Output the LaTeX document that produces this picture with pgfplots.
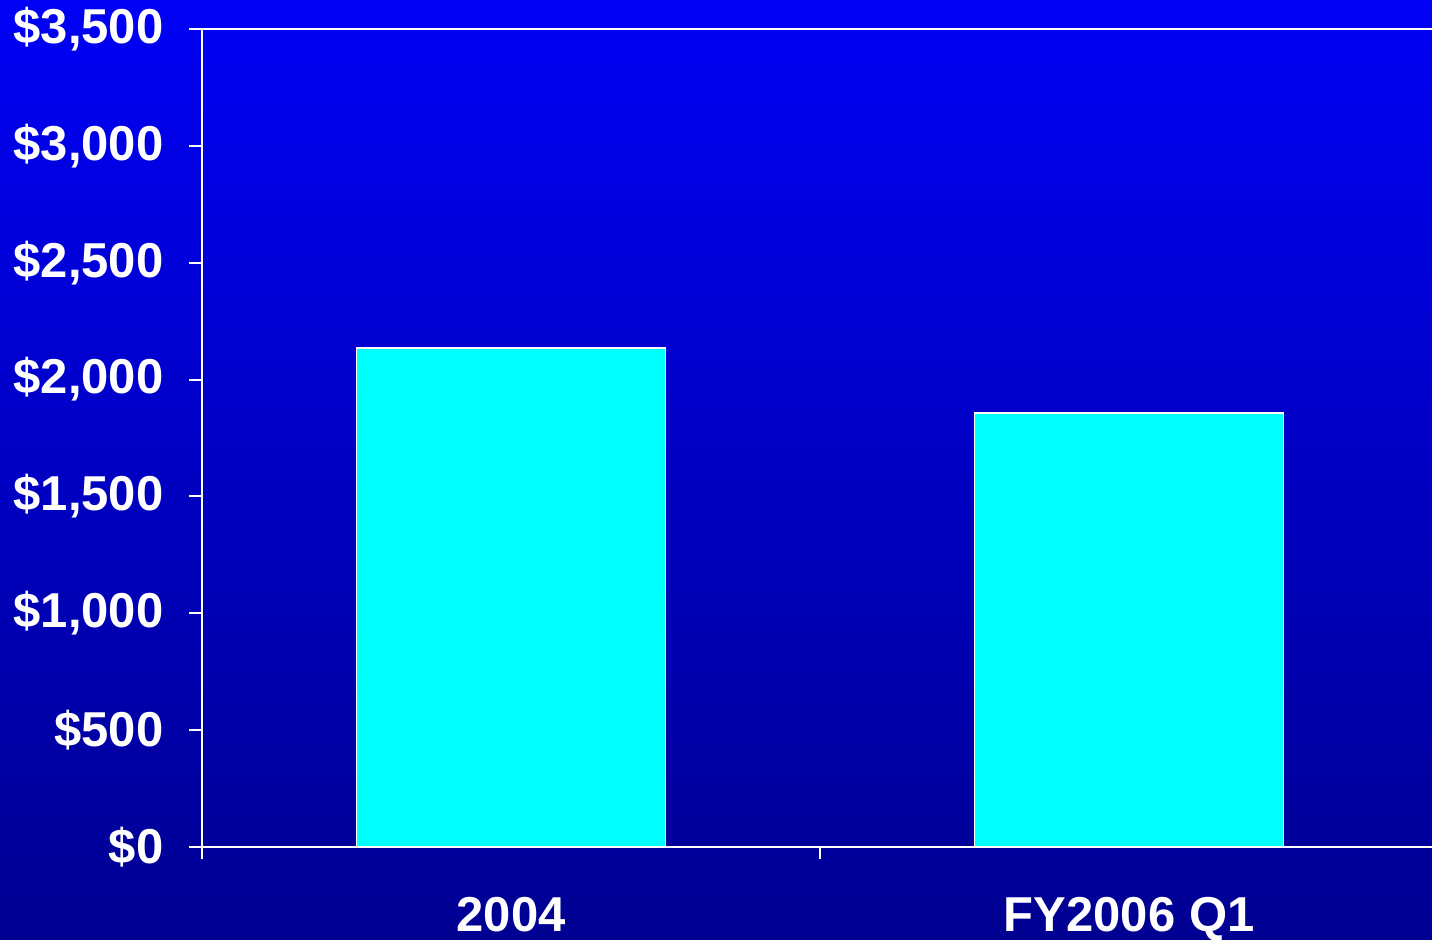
\documentclass[border=0pt]{standalone}
\usepackage{pgfplots}
\pgfplotsset{compat=1.18}
\usepackage{fontspec}
\setmainfont{Liberation Sans}
\definecolor{bgtop}{RGB}{0,0,245}
\definecolor{bgbot}{RGB}{0,0,145}
\definecolor{barc}{RGB}{0,255,255}
\begin{document}
\begin{tikzpicture}
\useasboundingbox (0,0) rectangle (716pt,470pt);
\shade[top color=bgtop, bottom color=bgbot] (0,0) rectangle (716pt,470pt);
\begin{axis}[
  at={(101pt,46.5pt)}, anchor=south west,
  width=615pt, height=409pt, scale only axis,
  xmin=-0.5, xmax=1.49, ymin=0, ymax=3500,
  axis x line*=bottom, axis y line*=left,
  axis line style={white, line width=1pt, -},
  every tick/.style={white, line width=1pt},
  major tick length=6.25pt,
  ytick={0,500,...,3500},
  yticklabels={\$0,\$500,{\$1,000},{\$1,500},{\$2,000},{\$2,500},{\$3,000},{\$3,500}},
  yticklabel style={font=\bfseries\fontsize{24.5}{28}\selectfont, text=white, anchor=east, xshift=-9.5pt},
  tick align=outside,
  xtick={-0.5,0.5}, xticklabels={},
  extra x ticks={0,1}, extra x tick labels={2004,FY2006 Q1},
  extra x tick style={major tick length=0pt},
  xticklabel style={font=\bfseries\fontsize{24.5}{28}\selectfont, text=white, anchor=base, yshift=-42.5pt},
  clip=false,
]
\addplot[ybar, bar width=154.5pt, fill=barc, draw=white, line width=0.8pt] coordinates {(0,2135) (1,1857)};
\draw[white, line width=1pt] (axis cs:-0.5,3500) -- (axis cs:1.49,3500);
\end{axis}
\end{tikzpicture}
\end{document}
